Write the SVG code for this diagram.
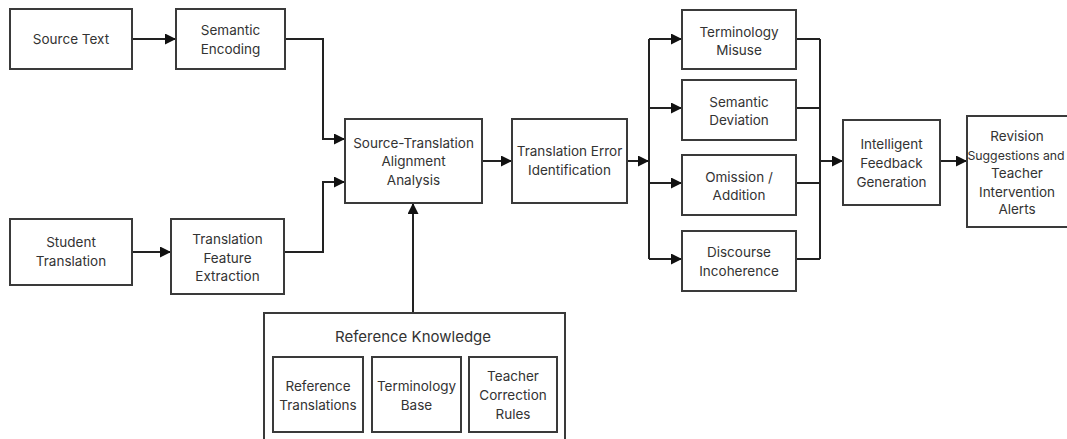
<svg xmlns="http://www.w3.org/2000/svg" width="1067" height="439" viewBox="0 0 1067 439">
  <style>
    .box { fill: #ffffff; stroke: #3a3a3a; stroke-width: 2; }
    .lbl { font-family: Inter, "Liberation Sans", Arial, sans-serif; font-size: 13.5px; fill: #333333; text-anchor: middle; }
    .title { font-size: 15px; }
    .tight { font-size: 12.3px; }
    .wire { fill: none; stroke: #222222; stroke-width: 2; }
    .arr { marker-end: url(#head); }
  </style>
  <defs>
    <marker id="head" viewBox="0 0 10 10" refX="10" refY="5" markerWidth="11" markerHeight="11" markerUnits="userSpaceOnUse" orient="auto">
      <path d="M0,0 L10,5 L0,10 z" fill="#111111"/>
    </marker>
  </defs>
  <rect width="1067" height="439" fill="#ffffff"/>

  <!-- connectors -->
  <g id="connectors">
    <path class="wire arr" d="M132,39 H176"/>
    <path class="wire arr" d="M285,39 H323 V139 H345"/>
    <path class="wire arr" d="M132,252 H171"/>
    <path class="wire arr" d="M284,252 H323 V182 H345"/>
    <path class="wire arr" d="M482,161 H512"/>
    <path class="wire arr" d="M627,161 H649"/>
    <path class="wire" d="M649,39 V259"/>
    <path class="wire arr" d="M649,39 H682"/>
    <path class="wire arr" d="M649,108 H682"/>
    <path class="wire arr" d="M649,183 H682"/>
    <path class="wire arr" d="M649,259 H682"/>
    <path class="wire" d="M796,39 H820 M796,108 H820 M796,183 H820 M796,259 H820 M820,39 V259"/>
    <path class="wire arr" d="M820,161 H843"/>
    <path class="wire arr" d="M940,161 H967"/>
    <path class="wire arr" d="M413,314 V203"/>
  </g>

  <g id="source-text">
    <rect class="box" x="10" y="9" width="122" height="60"/>
    <text class="lbl" x="71" y="44">Source Text</text>
  </g>
  <g id="semantic-encoding">
    <rect class="box" x="176" y="9" width="109" height="60"/>
    <text class="lbl" x="230.5" y="35">Semantic</text>
    <text class="lbl" x="230.5" y="54">Encoding</text>
  </g>
  <g id="student-translation">
    <rect class="box" x="10" y="219" width="122" height="66"/>
    <text class="lbl" x="71" y="247">Student</text>
    <text class="lbl" x="71" y="266">Translation</text>
  </g>
  <g id="feature-extraction">
    <rect class="box" x="171" y="219" width="113" height="75"/>
    <text class="lbl" x="227.5" y="244">Translation</text>
    <text class="lbl" x="227.5" y="263">Feature</text>
    <text class="lbl" x="227.5" y="281">Extraction</text>
  </g>
  <g id="alignment-analysis">
    <rect class="box" x="345" y="119" width="137" height="84"/>
    <text class="lbl" x="413.5" y="148">Source-Translation</text>
    <text class="lbl" x="413.5" y="166">Alignment</text>
    <text class="lbl" x="413.5" y="185">Analysis</text>
  </g>
  <g id="error-identification">
    <rect class="box" x="512" y="119" width="115" height="84"/>
    <text class="lbl" x="569.5" y="156">Translation Error</text>
    <text class="lbl" x="569.5" y="175">Identification</text>
  </g>
  <g id="terminology-misuse">
    <rect class="box" x="682" y="10" width="114" height="59"/>
    <text class="lbl" x="739" y="37">Terminology</text>
    <text class="lbl" x="739" y="55">Misuse</text>
  </g>
  <g id="semantic-deviation">
    <rect class="box" x="682" y="80" width="114" height="60"/>
    <text class="lbl" x="739" y="107">Semantic</text>
    <text class="lbl" x="739" y="125">Deviation</text>
  </g>
  <g id="omission-addition">
    <rect class="box" x="682" y="155" width="114" height="60"/>
    <text class="lbl" x="739" y="182">Omission /</text>
    <text class="lbl" x="739" y="200">Addition</text>
  </g>
  <g id="discourse-incoherence">
    <rect class="box" x="682" y="231" width="114" height="60"/>
    <text class="lbl" x="739" y="257">Discourse</text>
    <text class="lbl" x="739" y="276">Incoherence</text>
  </g>
  <g id="feedback-generation">
    <rect class="box" x="843" y="120" width="97" height="85"/>
    <text class="lbl" x="891.5" y="149">Intelligent</text>
    <text class="lbl" x="891.5" y="168">Feedback</text>
    <text class="lbl" x="891.5" y="187">Generation</text>
  </g>
  <g id="revision-alerts">
    <rect class="box" x="967" y="116" width="106" height="111"/>
    <text class="lbl" x="1017" y="141">Revision</text>
    <text class="lbl tight" x="1016" y="160">Suggestions and</text>
    <text class="lbl" x="1017" y="178">Teacher</text>
    <text class="lbl" x="1017" y="197">Intervention</text>
    <text class="lbl" x="1017" y="214">Alerts</text>
  </g>
  <g id="reference-knowledge">
    <rect class="box" x="264" y="313" width="301" height="135"/>
    <text class="lbl title" x="413" y="342">Reference Knowledge</text>
    <g id="reference-translations">
      <rect class="box" x="273" y="357" width="90" height="75"/>
      <text class="lbl" x="318" y="391">Reference</text>
      <text class="lbl" x="318" y="410">Translations</text>
    </g>
    <g id="terminology-base">
      <rect class="box" x="372" y="357" width="89" height="75"/>
      <text class="lbl" x="416.5" y="391">Terminology</text>
      <text class="lbl" x="416.5" y="410">Base</text>
    </g>
    <g id="correction-rules">
      <rect class="box" x="469" y="357" width="88" height="75"/>
      <text class="lbl" x="513" y="381">Teacher</text>
      <text class="lbl" x="513" y="400">Correction</text>
      <text class="lbl" x="513" y="419">Rules</text>
    </g>
  </g>
</svg>
